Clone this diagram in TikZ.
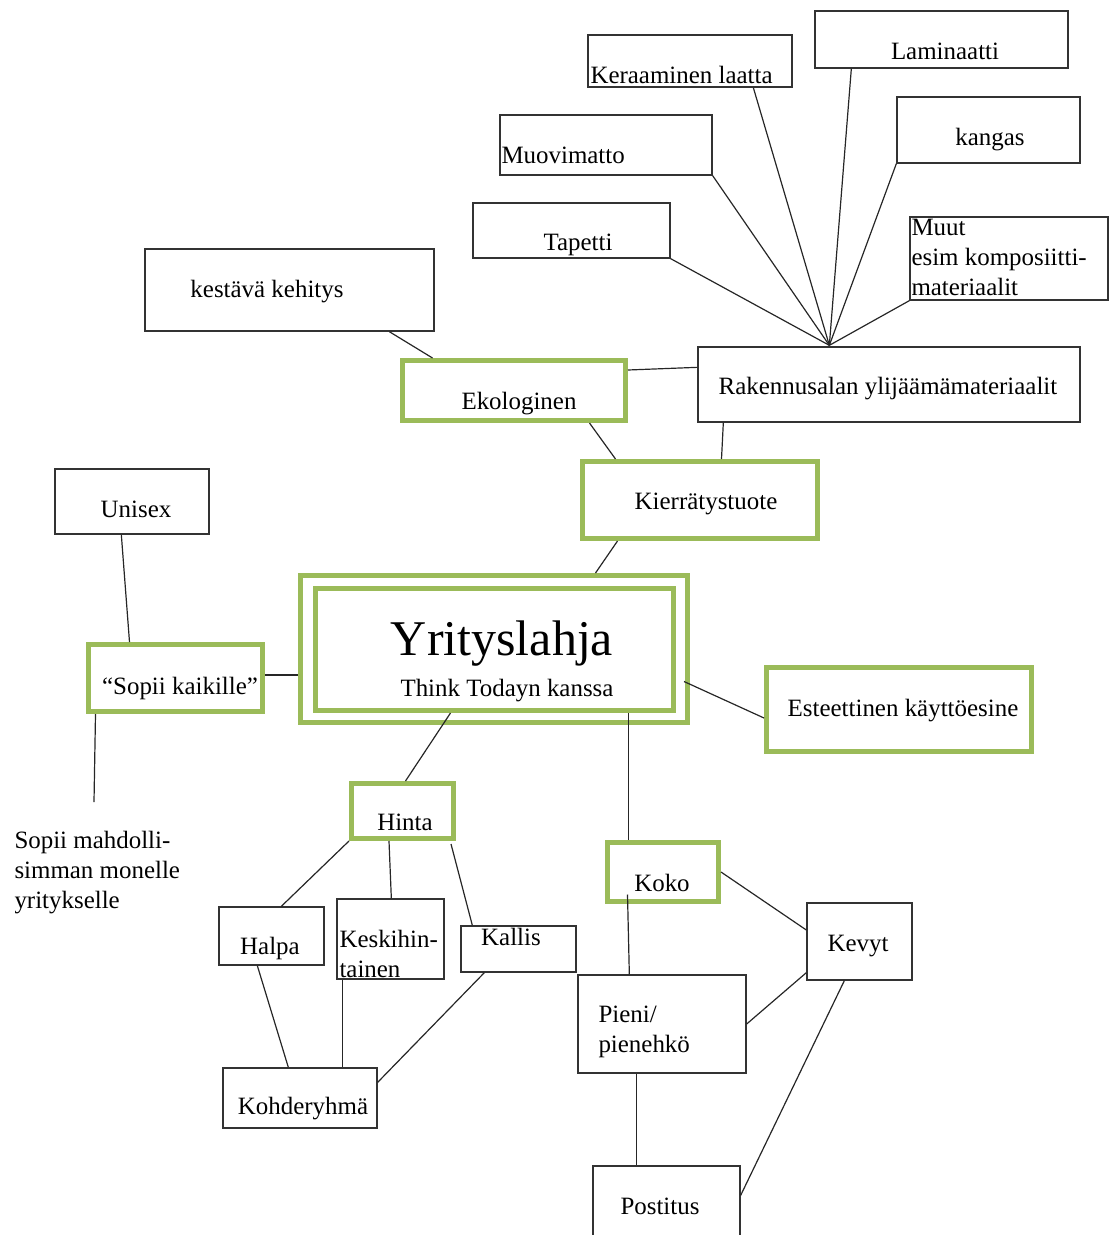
\documentclass[tikz,border=0pt]{standalone}
\usepackage{fontspec}
\setmainfont{Liberation Serif}
\usetikzlibrary{calc}

\definecolor{leafgreen}{RGB}{155,187,89}

\tikzset{every picture/.style={line width=0.75pt}}
\tikzset{
  plainbox/.style={draw=black!80, line width=1pt, inner sep=0pt, fill=white},
  greenbox/.style={draw=leafgreen, line width=3.75pt, inner sep=0pt, fill=white},
  txt/.style={inner sep=0pt, anchor=base, font=\fontsize{18.7}{22}\selectfont},
  ltxt/.style={txt, anchor=base west},
  link/.style={draw=black!85, line width=0.9pt}
}

\begin{document}
\begin{tikzpicture}[x=0.75pt,y=0.75pt,yscale=-1,xscale=1]
	\useasboundingbox (0,0) rectangle (1117,1235);

	% materiaalit
	\node [plainbox, minimum width=189.75pt, minimum height=42.75pt] (lam) at (941.5,39.5) {};
	\node [plainbox, minimum width=153pt, minimum height=39pt] (ker) at (690,61) {};
	\node [plainbox, minimum width=137.25pt, minimum height=49.5pt] (kan) at (988.5,130) {};
	\node [plainbox, minimum width=159pt, minimum height=45pt] (muo) at (606,145) {};
	\node [plainbox, minimum width=147.75pt, minimum height=41.25pt] (tap) at (571.5,230.5) {};
	\node [plainbox, minimum width=148.5pt, minimum height=62.25pt] (muut) at (1009,258.5) {};
	\node [plainbox, minimum width=216.75pt, minimum height=61.5pt] (kest) at (289.5,290) {};
	\node [plainbox, minimum width=286.5pt, minimum height=56.25pt] (rak) at (889,384.5) {};
	\coordinate (hub) at ($(rak.north west)+(132,-1)$);

	% green boxes
	\node [greenbox, minimum width=167.25pt, minimum height=45pt] (eko) at (514,390.5) {};
	\node [greenbox, minimum width=176.25pt, minimum height=57.75pt] (kie) at (700,500) {};
	\node [greenbox, minimum width=290.25pt, minimum height=110.25pt] (mainout) at (494,649) {};
	\node [greenbox, minimum width=268.5pt, minimum height=91.5pt] (mainin) at (494.5,649.5) {};
	\node [plainbox, minimum width=115.5pt, minimum height=48.75pt] (uni) at (132,501.5) {};
	\node [greenbox, minimum width=130.5pt, minimum height=50.25pt] (sop) at (175.5,678) {};
	\node [greenbox, minimum width=198.75pt, minimum height=63pt] (est) at (899,709.5) {};
	\node [greenbox, minimum width=76.5pt, minimum height=41.25pt] (hin) at (402.5,811) {};
	\node [greenbox, minimum width=83.25pt, minimum height=44.25pt] (kok) at (663,872) {};

	% alalaatikot
	\node [plainbox, minimum width=78.75pt, minimum height=43.5pt] (hal) at (271.5,936) {};
	\node [plainbox, minimum width=80.25pt, minimum height=60pt] (kes) at (390.5,939) {};
	\node [plainbox, minimum width=86.25pt, minimum height=34.5pt] (kal) at (518.5,949) {};
	\node [plainbox, minimum width=78.75pt, minimum height=57.75pt] (kev) at (859.5,941.5) {};
	\node [plainbox, minimum width=126pt, minimum height=73.5pt] (pie) at (662,1024) {};
	\node [plainbox, minimum width=115.5pt, minimum height=45pt] (koh) at (300,1098) {};
	\node [plainbox, minimum width=110.25pt, minimum height=55.5pt] (pos) at (666.5,1203) {};
	\coordinate (sopend) at (94,802);

	% Texts
	\node [txt] (t-lam) at (945,59) {Laminaatti};
	\node [ltxt] (t-ker) at (590,83) {Keraaminen laatta};
	\node [txt] (t-kan) at (990,145) {kangas};
	\node [ltxt] (t-muo) at (501,163) {Muovimatto};
	\node [txt] (t-tap) at (578,250) {Tapetti};
	\node [ltxt] (t-muut1) at (911,235) {Muut};
	\node [ltxt] (t-muut2) at (911,265) {esim komposiitti-};
	\node [ltxt] (t-muut3) at (911,295) {materiaalit};
	\node [txt] (t-kest) at (267,297) {kestävä kehitys};
	\node [txt] (t-eko) at (519,409) {Ekologinen};
	\node [txt] (t-rak) at (888,394) {Rakennusalan ylijäämämateriaalit};
	\node [txt] (t-kie) at (706,509) {Kierrätystuote};
	\node [txt, font=\fontsize{37.5}{42}\selectfont] (t-main) at (502,655) {Yrityslahja};
	\node [txt] (t-think) at (507,696) {Think Todayn kanssa};
	\node [txt] (t-uni) at (136,517) {Unisex};
	\node [txt] (t-sop) at (180,694) {“Sopii kaikille”};
	\node [txt] (t-est) at (903,716) {Esteettinen käyttöesine};
	\node [ltxt] (t-sm1) at (14,848) {Sopii mahdolli-};
	\node [ltxt] (t-sm2) at (14,878) {simman monelle};
	\node [ltxt] (t-sm3) at (14,908) {yritykselle};
	\node [txt] (t-hin) at (405,830) {Hinta};
	\node [txt] (t-kok) at (662,891) {Koko};
	\node [txt] (t-hal) at (270,954) {Halpa};
	\node [ltxt] (t-kes1) at (339,947) {Keskihin-};
	\node [ltxt] (t-kes2) at (339,977) {tainen};
	\node [txt] (t-kal) at (511,945) {Kallis};
	\node [txt] (t-kev) at (858,951) {Kevyt};
	\node [ltxt] (t-pie1) at (598,1022) {Pieni/};
	\node [ltxt] (t-pie2) at (598,1052) {pienehkö};
	\node [txt] (t-koh) at (303,1114) {Kohderyhmä};
	\node [txt] (t-pos) at (660,1214) {Postitus};

	% Connectors
	\draw [link] (tap.south east) -- (hub);
	\draw [link] (muo.south east) -- (hub);
	\draw [link] ($(ker.south west)+(166,0)$) -- (hub);
	\draw [link] ($(lam.south west)+(37,0)$) -- (hub);
	\draw [link] (kan.south west) -- (hub);
	\draw [link] (muut.south west) -- (hub);
	\draw [link] ($(kest.south west)+(245,0)$) -- ($(eko.north west)+(32.5,0)$);
	\draw [link] ($(eko.north east)+(0,12)$) -- ($(rak.north west)+(0,21)$);
	\draw [link] ($(eko.south west)+(189.5,0)$) -- ($(kie.north west)+(35.5,0)$);
	\draw [link] ($(rak.south west)+(26,0)$) -- ($(kie.north west)+(141.5,0)$);
	\draw [link] ($(kie.south west)+(37.5,0)$) -- ($(mainout.north west)+(297.5,0)$);
	\draw [link] ($(uni.south west)+(67,0)$) -- ($(sop.north west)+(43.5,0)$);
	\draw [link] ($(sop.east)+(0,-3)$) -- ($(mainout.west |- sop.east)+(0,-3)$);
	\draw [link] ($(sop.south west)+(9.5,0)$) -- (sopend);
	\draw [link] ($(mainin.east)+(8,32)$) -- ($(est.west)+(0,8.5)$);
	\draw [link] ($(mainin.south west)+(137.5,0)$) -- ($(hin.north west)+(56.5,0)$);
	\draw [link] ($(mainin.south west)+(315.5,0)$) -- ($(kok.north west)+(23.5,0)$);
	\draw [link] ($(kok.south west)+(22.5,-9.5)$) -- ($(pie.north west)+(52,0)$);
	\draw [link] (kok.east) -- ($(kev.west)+(0,-11.5)$);
	\draw [link] (pie.east) -- ($(kev.south west)+(0,-8)$);
	\draw [link] ($(pie.south west)+(59,0)$) -- ($(pos.north west)+(44,0)$);
	\draw [link] ($(kev.south west)+(38,0)$) -- ($(pos.north east)+(0,30)$);
	\draw [link] (hin.south west) -- ($(hal.north west)+(63,0)$);
	\draw [link] ($(hin.south west)+(40,0)$) -- ($(kes.north west)+(55,0)$);
	\draw [link] ($(hin.south east)+(-5,3)$) -- ($(kal.north west)+(12,0)$);
	\draw [link] ($(hal.south west)+(39,0)$) -- ($(koh.north west)+(66,0)$);
	\draw [link] ($(kes.south west)+(6,0)$) -- ($(koh.north west)+(120,0)$);
	\draw [link] ($(kal.south west)+(24,0)$) -- ($(koh.north east)+(0,15)$);

\end{tikzpicture}
\end{document}
